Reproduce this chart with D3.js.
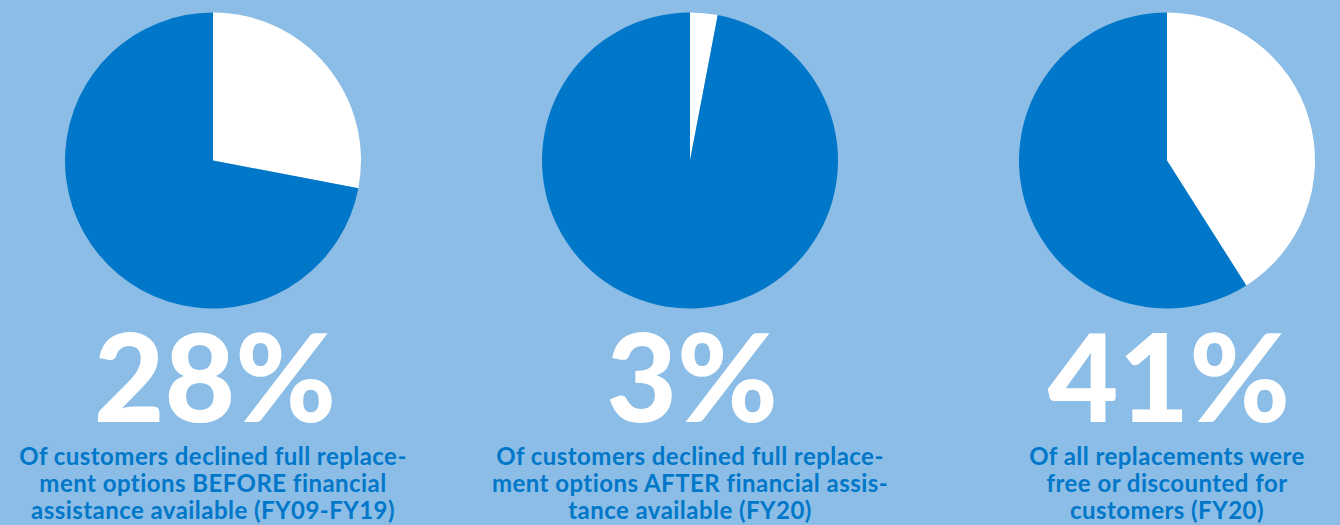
<!DOCTYPE html>
<html>
<head>
<meta charset="utf-8">
<script src="https://cdn.jsdelivr.net/npm/d3@7"></script>
<style>
  html, body { margin: 0; padding: 0; background: #8BBDE6; }
  svg { display: block; }
</style>
</head>
<body>
<script>
// Share of each group (percent) shown as the white wedge
const shares = [28, 3, 41];
// Big figure shown under each pie
const shareLabels = ["28%", "3%", "41%"];
// Caption lines under each figure
const captions = [
  ["Of customers declined full replace-", "ment options BEFORE financial", "assistance available (FY09-FY19)"],
  ["Of customers declined full replace-", "ment options AFTER financial assis-", "tance available (FY20)"],
  ["Of all replacements were", "free or discounted for", "customers (FY20)"]
];

const W = 1340, H = 525;
const bg = "#8BBDE6", blue = "#0077C8", white = "#FFFFFF";

const svg = d3.select("body").append("svg")
  .attr("width", W).attr("height", H);
svg.append("rect").attr("width", W).attr("height", H).attr("fill", bg);

// Panel centres
const x = d3.scalePoint().domain(d3.range(shares.length)).range([213, 1167]);
const cy = 160.5, R = 148;

const pie = d3.pie().sort(null).value(d => d.v);
const arc = d3.arc().innerRadius(0).outerRadius(R);

shares.forEach((s, i) => {
  const g = svg.append("g").attr("transform", `translate(${x(i)},0)`);
  const parts = [{k: "share", v: s}, {k: "rest", v: 100 - s}];
  g.append("g").attr("transform", `translate(0,${cy})`)
    .selectAll("path").data(pie(parts)).join("path")
    .attr("d", arc)
    .attr("fill", d => d.data.k === "share" ? white : blue);

  g.append("text")
    .attr("x", 2).attr("y", 422)
    .attr("text-anchor", "middle")
    .attr("font-family", "Lato, 'Open Sans', sans-serif")
    .attr("font-weight", 900)
    .attr("font-size", 122)
    .attr("fill", white)
    .text(shareLabels[i]);

  g.selectAll("text.cap").data(captions[i]).join("text")
    .attr("class", "cap")
    .attr("x", 0)
    .attr("y", (d, j) => 465 + j * 27)
    .attr("text-anchor", "middle")
    .attr("font-family", "Lato, 'Open Sans', sans-serif")
    .attr("font-weight", 700)
    .attr("font-size", 24)
    .attr("letter-spacing", 0.45)
    .attr("fill", blue)
    .text(d => d);
});
</script>
</body>
</html>
